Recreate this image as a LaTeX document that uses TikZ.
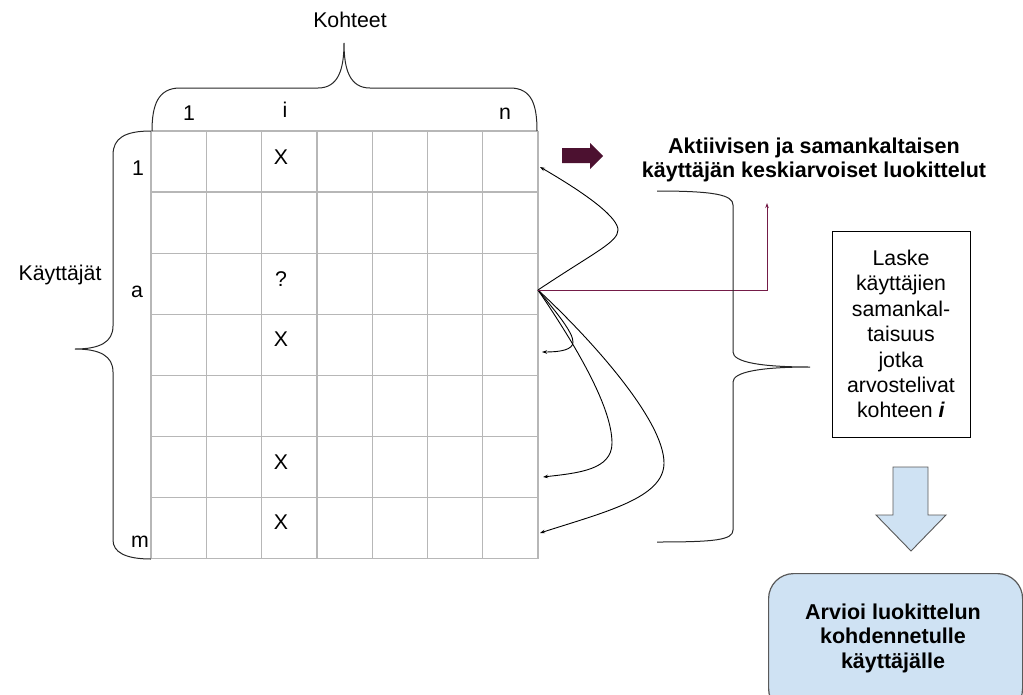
\documentclass[tikz,border=0pt]{standalone}
\usepackage{fontspec}
\setmainfont{Liberation Sans}
\usetikzlibrary{arrows.meta}

\definecolor{gridgray}{HTML}{B7B7B7}
\definecolor{darkmagenta}{HTML}{4C1130}
\definecolor{linemagenta}{HTML}{741B47}
\definecolor{paleblue}{HTML}{CFE2F3}
\definecolor{boxgray}{HTML}{595959}

\tikzset{
  lbl/.style={font=\fontsize{21.3}{25}\selectfont, inner sep=0pt},
  title/.style={font=\fontsize{21.5}{24.5}\selectfont\bfseries, align=center, inner sep=0pt},
  curvearrow/.style={line width=0.9pt, -{Stealth[length=5pt,width=3.5pt]}},
  bracket/.style={line width=1pt, black!85},
}

\begin{document}
\begin{tikzpicture}[x=1pt, y=-1pt]
      \useasboundingbox (0,0) rectangle (1023,694);

      % Draw the grid (7 columns, 7 rows)
      \foreach \c in {0,...,7} {
          \draw[gridgray, line width=1.3pt] (151+\c*55.3, 131) -- (151+\c*55.3, 559);
      }
      \foreach \r in {0,...,7} {
          \draw[gridgray, line width=1.3pt] (151, 131+\r*61.1) -- (538, 131+\r*61.1);
      }

      % Column and row labels
      \node[lbl] (c1) at (189,113) {1};
      \node[lbl] (ci) at (285,110) {i};
      \node[lbl] (cn) at (505,114) {n};
      \node[lbl] (r1) at (138,168) {1};
      \node[lbl] (ra) at (137,292) {a};
      \node[lbl] (rm) at (140,542) {m};

      % Ratings in column i
      \node[lbl] (x1) at (281,157) {X};
      \node[lbl] (qa) at (281,279) {?};
      \node[lbl] (x4) at (281,339) {X};
      \node[lbl] (x6) at (281,462) {X};
      \node[lbl] (x7) at (281,522) {X};

      % Braces round the grid
      \draw[bracket] (152,131) .. controls (152,105) and (158,88) .. (180,88)
          -- (318,88) .. controls (338,88) and (344,70) .. (344,43)
          .. controls (344,70) and (350,88) .. (370,88)
          -- (510,88) .. controls (532,88) and (537,105) .. (537,131);
      \node[lbl] (kohteet) at (350,20) {Kohteet};

      \draw[bracket] (151,131) .. controls (125,131) and (113,138) .. (113,155)
          -- (113,326) .. controls (113,342) and (100,349) .. (75,349)
          .. controls (100,349) and (113,356) .. (113,372)
          -- (113,540) .. controls (113,552) and (125,559) .. (151,559);
      \node[lbl] (kayttajat) at (60,275) {Käyttäjät};

      % Similarity arrows from the active user a
      \coordinate (a) at (538,290);
      \coordinate (t1) at (540,167);
      \coordinate (t4) at (542,352);
      \coordinate (t6) at (543,477);
      \coordinate (t7) at (540,533);
      \draw[curvearrow] (a) .. controls (595,252) and (618,242) .. (618,230)
          .. controls (618,218) and (590,196) .. (t1);
      \draw[curvearrow] (a) .. controls (556,312) and (573,332) .. (573,342)
          .. controls (573,350) and (560,352) .. (t4);
      \draw[curvearrow] (a) .. controls (572,340) and (612,405) .. (612,443)
          .. controls (612,470) and (578,473) .. (t6);
      \draw[curvearrow] (a) .. controls (590,338) and (664,420) .. (664,463)
          .. controls (664,498) and (605,512) .. (t7);

      % Average ratings
      \fill[darkmagenta] (562,148) -- (590,148) -- (590,143) -- (603,156)
          -- (590,169) -- (590,163) -- (562,163) -- cycle;
      \node[title] (avg) at (814,160) {Aktiivisen ja samankaltaisen\\käyttäjän keskiarvoiset luokittelut};
      \coordinate (up) at (767,203);
      \draw[linemagenta, line width=0.9pt, -{Stealth[length=5pt,width=3.5pt]}] (a) -| (up);

      % Brace round the similar users
      \draw[bracket] (657,191) .. controls (715,191) and (733,195) .. (733,205)
          -- (733,352) .. controls (733,362) and (760,367) .. (810,367)
          .. controls (760,367) and (733,372) .. (733,382)
          -- (733,530) .. controls (733,540) and (715,542) .. (657,542);

      % Steps
      \node[draw, line width=0.9pt, minimum width=138pt, minimum height=206pt,
            align=center, font=\fontsize{21.3}{25.4}\selectfont, inner sep=0pt] (laske) at (901,334)
          {Laske\\käyttäjien\\samankal-\\taisuus\\jotka\\arvostelivat\\kohteen \textbf{\textit{i}}};

      \draw[boxgray, line width=0.9pt, fill=paleblue] (893,467) -- (928,467) -- (928,515)
          -- (946,515) -- (911,551) -- (876,515) -- (893,515) -- cycle;

      \node[draw=boxgray, line width=1.2pt, fill=paleblue, rounded corners=25pt,
            minimum width=254pt, minimum height=140pt, anchor=north west, inner sep=0pt] (arvioi) at (768,573) {};
      \node[title] (arvioitxt) at (893,638)
          {Arvioi luokittelun\\kohdennetulle\\käyttäjälle};
\end{tikzpicture}
\end{document}
